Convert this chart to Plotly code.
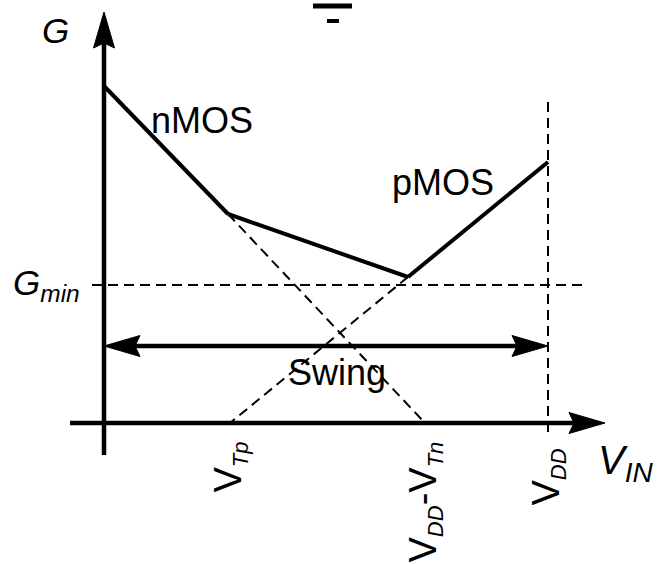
import plotly.graph_objects as go

# Coordinates: origin at the axes crossing, one unit per screen pixel.
# Conductance curves (solid)
nmos_x = [0, 124]
nmos_y = [337, 209]
both_x = [124, 304]
both_y = [209, 146]
pmos_x = [304, 444]
pmos_y = [146, 261]

# Dashed extensions of the individual device conductances
nmos_ext_x = [124, 321]
nmos_ext_y = [209, 0]
pmos_ext_x = [304, 126]
pmos_ext_y = [146, 0]

# Reference levels
g_min = 138
g_min_span = [-12, 478]
v_dd = 444
v_dd_span = [-9, 323]
swing_y = 77
swing_span = [0, 444]

# Axes extents
x_axis_span = [-34, 501]
y_axis_span = [-32, 411]

# Tick labels along V_IN
SUB = "<sub><span style='font-size:22px'><i>{}</i></span></sub>"
tick_pos = [126, 321, 444]
tick_top = [-17, -17, -24]
tick_text = [
    "V" + SUB.format("Tp"),
    "V" + SUB.format("DD") + "-V" + SUB.format("Tn"),
    "V" + SUB.format("DD"),
]

FONT = "Liberation Sans, Arial, Helvetica, sans-serif"
BLACK = "#000000"
HEAD_LEN = 36
HEAD_HALF = 10.5
HEAD_NOTCH = 5


def head(tip_x, tip_y, dx, dy):
    """Filled arrowhead polygon pointing along (dx, dy)."""
    px, py = -dy, dx
    bx = tip_x - dx * HEAD_LEN
    by = tip_y - dy * HEAD_LEN
    nx = tip_x - dx * (HEAD_LEN - HEAD_NOTCH)
    ny = tip_y - dy * (HEAD_LEN - HEAD_NOTCH)
    xs = [tip_x, bx + px * HEAD_HALF, nx, bx - px * HEAD_HALF, tip_x]
    ys = [tip_y, by + py * HEAD_HALF, ny, by - py * HEAD_HALF, tip_y]
    return go.Scatter(x=xs, y=ys, mode="lines", fill="toself",
                      fillcolor=BLACK, line=dict(color=BLACK, width=1),
                      hoverinfo="skip", showlegend=False)


def seg(xs, ys, width=4, dash=None):
    return go.Scatter(x=xs, y=ys, mode="lines",
                      line=dict(color=BLACK, width=width, dash=dash),
                      hoverinfo="skip", showlegend=False)


DASH = "10px,6px"
fig = go.Figure()

# dashed guides
fig.add_trace(seg(g_min_span, [g_min, g_min], 2, DASH))
fig.add_trace(seg([v_dd, v_dd], v_dd_span, 2, DASH))
fig.add_trace(seg(nmos_ext_x, nmos_ext_y, 2, DASH))
fig.add_trace(seg(pmos_ext_x, pmos_ext_y, 2, DASH))

# axes
fig.add_trace(seg([x_axis_span[0], x_axis_span[1] - HEAD_LEN + HEAD_NOTCH], [0, 0], 4.5))
fig.add_trace(head(x_axis_span[1], 0, 1, 0))
fig.add_trace(seg([0, 0], [y_axis_span[0], y_axis_span[1] - HEAD_LEN + HEAD_NOTCH], 4.5))
fig.add_trace(head(0, y_axis_span[1], 0, 1))

# swing double arrow
fig.add_trace(seg([swing_span[0] + HEAD_LEN - HEAD_NOTCH, swing_span[1] - HEAD_LEN + HEAD_NOTCH],
                  [swing_y, swing_y], 4.5))
fig.add_trace(head(swing_span[0], swing_y, -1, 0))
fig.add_trace(head(swing_span[1], swing_y, 1, 0))

# conductance curves
fig.add_trace(seg(nmos_x, nmos_y, 4))
fig.add_trace(seg(both_x, both_y, 4))
fig.add_trace(seg(pmos_x, pmos_y, 4))

# partial ground symbol at the top edge
fig.add_shape(type="line", x0=209, x1=248, y0=417, y1=417,
              line=dict(color=BLACK, width=5))
fig.add_shape(type="line", x0=223, x1=235, y0=402, y1=402,
              line=dict(color=BLACK, width=4))

ann = []


def label(text, x, y, size, xanchor="center", yanchor="middle", angle=0):
    ann.append(dict(text=text, x=x, y=y, xref="x", yref="y", showarrow=False,
                    xanchor=xanchor, yanchor=yanchor, textangle=angle,
                    font=dict(family=FONT, size=size, color=BLACK)))


label("<i>G</i>", -49, 393, 35)
label("nMOS", 98, 303, 36)
label("pMOS", 339, 241, 36)
label("Swing", 233, 51, 36)
label("<i>G<sub>min</sub></i>", -93, 138, 35, xanchor="left")
label("<i>V<sub>IN</sub></i>", 492, -40, 40, xanchor="left")
for pos, top, txt in zip(tick_pos, tick_top, tick_text):
    label(txt, pos, top, 38, yanchor="top", angle=-90)

fig.update_layout(
    width=660, height=564,
    margin=dict(l=0, r=0, t=0, b=0),
    paper_bgcolor="white", plot_bgcolor="white",
    xaxis=dict(range=[-104, 556], visible=False, fixedrange=True),
    yaxis=dict(range=[-141, 423], visible=False, fixedrange=True),
    annotations=ann,
    showlegend=False,
)

fig.write_html("out.html")
